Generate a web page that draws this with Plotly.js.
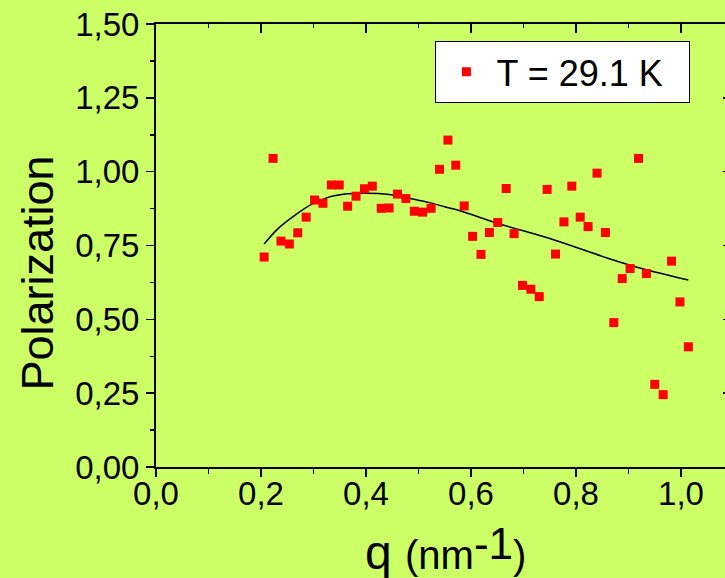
<!DOCTYPE html>
<html>
<head>
<meta charset="utf-8">
<script src="https://cdn.plot.ly/plotly-3.0.1.min.js"></script>
<style>html,body{margin:0;padding:0;background:#ccff66;}#chart{width:725px;height:578px;}</style>
</head>
<body>
<div id="chart"></div>
<script>
// Measured points (q in nm^-1, polarization)
const qValues = [0.206,0.223,0.238,0.254,0.270,0.286,0.302,0.318,0.334,0.349,0.365,0.381,0.397,0.412,0.429,0.444,0.460,0.476,0.492,0.508,0.524,0.540,0.556,0.571,0.587,0.603,0.619,0.635,0.651,0.667,0.682,0.698,0.714,0.730,0.745,0.761,0.777,0.792,0.808,0.823,0.840,0.856,0.872,0.888,0.903,0.919,0.934,0.950,0.966,0.982,0.998,1.014];
const polValues = [0.711,1.045,0.765,0.755,0.793,0.846,0.904,0.893,0.955,0.955,0.883,0.917,0.942,0.951,0.876,0.877,0.924,0.909,0.866,0.863,0.876,1.008,1.107,1.022,0.884,0.781,0.720,0.794,0.828,0.943,0.790,0.615,0.602,0.577,0.940,0.721,0.830,0.951,0.846,0.814,0.995,0.794,0.489,0.638,0.672,1.045,0.655,0.280,0.245,0.697,0.559,0.407];
// Fit curve
const fitQ = [0.206,0.233,0.265,0.297,0.328,0.360,0.392,0.424,0.455,0.487,0.519,0.550,0.582,0.651,0.760,0.862,0.925,1.014];
const fitPol = [0.755,0.808,0.853,0.890,0.913,0.924,0.927,0.926,0.920,0.908,0.896,0.881,0.866,0.825,0.768,0.706,0.672,0.633];
const seriesName = 'T = 29.1 K';
const xRange = [0, 1.0838];
const yRange = [0, 1.5];

const FONT = 'Liberation Sans, Arial, sans-serif';
const BG = '#ccff66';

const traces = [
  {x: fitQ, y: fitPol, type: 'scatter', mode: 'lines', line: {color: '#000', width: 1.5, shape: 'spline', smoothing: 1}, showlegend: false, hoverinfo: 'skip'},
  {x: qValues, y: polValues, type: 'scatter', mode: 'markers', name: seriesName, marker: {symbol: 'square', size: 9, color: '#ff0000', line: {width: 0}}},
  {x: [], y: [], xaxis: 'x2', yaxis: 'y2', type: 'scatter', showlegend: false, hoverinfo: 'skip'}
];

const layout = {
  width: 725, height: 578,
  paper_bgcolor: BG, plot_bgcolor: BG,
  margin: {l: 156, r: 0, t: 24, b: 111, pad: 0, autoexpand: false},
  separators: ', ',
  font: {family: FONT, color: '#000'},
  showlegend: true,
  legend: {orientation: 'h', x: 0.491, y: 0.962, xanchor: 'left', yanchor: 'top', bgcolor: '#ffffff', bordercolor: '#000', borderwidth: 1, font: {size: 36, family: FONT}, itemwidth: 50, tracegroupgap: 0, entrywidth: 188, entrywidthmode: 'pixels'},
  xaxis: {range: xRange, dtick: 0.2, tick0: 0, tickformat: '.1f', ticks: 'outside', ticklen: 8, tickwidth: 1.5, tickcolor: '#000',
          showline: true, linecolor: '#000', linewidth: 2, showgrid: false, zeroline: false, automargin: false,
          tickfont: {size: 33, family: FONT}, ticklabelstandoff: -12,
          minor: {dtick: 0.1, ticks: 'outside', ticklen: 5, tickwidth: 1.5, tickcolor: '#000', showgrid: false}},
  yaxis: {range: yRange, dtick: 0.25, tick0: 0, tickformat: '.2f', ticks: 'outside', ticklen: 8, tickwidth: 1.5, tickcolor: '#000',
          showline: true, linecolor: '#000', linewidth: 2, showgrid: false, zeroline: false, automargin: false,
          tickfont: {size: 33, family: FONT}, ticklabelstandoff: 0,
          minor: {dtick: 0.125, ticks: 'outside', ticklen: 4, tickwidth: 1.5, tickcolor: '#000', showgrid: false}},
  xaxis2: {overlaying: 'x', side: 'top', range: xRange, dtick: 0.2, tick0: 0, ticks: 'inside', ticklen: 9, tickwidth: 1.5, tickcolor: '#000',
           showline: true, linecolor: '#000', linewidth: 2, showgrid: false, zeroline: false, showticklabels: false,
           minor: {dtick: 0.1, ticks: 'inside', ticklen: 4, tickwidth: 1.5, tickcolor: '#000', showgrid: false}},
  yaxis2: {overlaying: 'y', side: 'right', range: yRange, dtick: 0.25, tick0: 0, ticks: 'inside', ticklen: 2, tickwidth: 1.5, tickcolor: '#000',
           showline: false, showgrid: false, zeroline: false, showticklabels: false},
  annotations: [
    {text: 'Polarization', xref: 'paper', yref: 'paper', x: -0.2075, y: 0.4387, xanchor: 'center', yanchor: 'middle', textangle: -90, showarrow: false, font: {size: 45, family: FONT}},
    {text: 'q <span style="font-size:40px">(nm</span><span style="font-size:24px"><sup><span style="font-size:44px">-1</span></sup></span><span style="font-size:40px">)</span>', xref: 'paper', yref: 'paper', x: 0.508, y: -0.258, xanchor: 'center', yanchor: 'bottom', showarrow: false, font: {size: 48, family: FONT}}
  ]
};

Plotly.newPlot('chart', traces, layout, {displayModeBar: false, staticPlot: true});
</script>
</body>
</html>
